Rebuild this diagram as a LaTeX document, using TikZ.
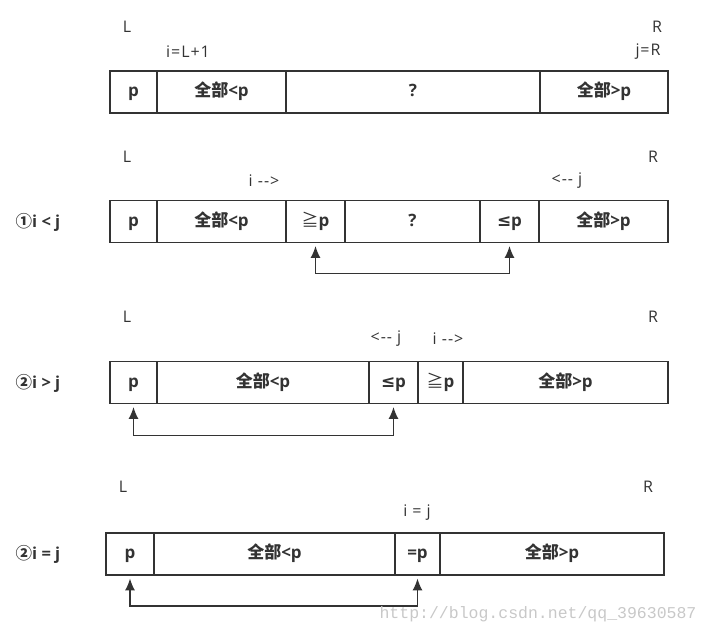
\documentclass[tikz,border=0pt]{standalone}
\usepackage{fontspec}
\setmainfont{Open Sans}
\newfontfamily\cjk{Noto Sans CJK SC}
\newfontfamily\sym{DejaVu Sans}
\newfontfamily\lblfont{Open Sans}[LetterSpace=6]
\newfontfamily\wmfont{Liberation Mono}
\usetikzlibrary{arrows.meta}
\definecolor{ink}{HTML}{333333}
\definecolor{wm}{HTML}{C8C8C8}
\newcommand{\qb}{{\cjk 全部}}
\tikzset{
  cell/.style={draw=ink, line width=1.8pt, minimum height=42pt, inner sep=0pt,
    text height=1.0em, text depth=0.08em,
    font=\fontsize{17}{17}\selectfont\bfseries, text=ink},
  lbl/.style={inner sep=0pt, font=\lblfont\fontsize{16}{16}\selectfont, text=ink},
  side/.style={inner sep=0pt, font=\fontsize{16.5}{16.5}\selectfont\bfseries, text=ink},
  arr/.style={draw=ink, line width=1.5pt, shorten <=2.5pt, shorten >=2.5pt,
    {Latex[length=12pt,width=10pt]}-{Latex[length=12pt,width=10pt]}}
}
\begin{document}
\begin{tikzpicture}[x=1pt,y=-1pt]
\useasboundingbox (0,0) rectangle (710,637);
% ---------- row 1 ----------
\node[lbl] (L1) at (127,27) {L};
\node[lbl] (R1) at (657,27) {R};
\node[lbl] (i1) at (188,52) {i=L+1};
\node[lbl] (j1) at (648,52) {j=R};
\node[cell, minimum width=47pt]  (a1) at (133.5,92) {p};
\node[cell, minimum width=129pt] (b1) at (221.5,92) {\qb<p};
\node[cell, minimum width=254pt] (c1) at (413,92) {?};
\node[cell, minimum width=128pt] (d1) at (604,92) {\qb>p};
% ---------- row 2 ----------
\node[lbl] (L2) at (127,157) {L};
\node[lbl] (R2) at (653,157) {R};
\node[lbl] (i2) at (264,181) {i -{}->};
\node[lbl] (j2) at (567,181) {<-{}- j};
\node[side] (s2) at (38,222) {{\cjk ①}i < j};
\node[cell, minimum width=47pt]  (a2) at (133.5,221.5) {p};
\node[cell, minimum width=129pt] (b2) at (221.5,221.5) {\qb<p};
\node[cell, minimum width=59pt]  (c2) at (315.5,221.5) {{\cjk\mdseries ≧}p};
\node[cell, minimum width=135pt] (d2) at (412.5,221.5) {?};
\node[cell, minimum width=59pt]  (e2) at (509.5,221.5) {{\sym ≤}p};
\node[cell, minimum width=129pt] (f2) at (603.5,221.5) {\qb>p};
\draw[arr] (c2.south) -- ++(0,30) -| (e2.south);
% ---------- row 3 ----------
\node[lbl] (L3) at (127,317) {L};
\node[lbl] (R3) at (653,317) {R};
\node[lbl] (j3) at (386,339) {<-{}- j};
\node[lbl] (i3) at (448,339) {i -{}->};
\node[side] (s3) at (38,383) {{\cjk ②}i > j};
\node[cell, minimum width=47pt]  (a3) at (133.5,382.5) {p};
\node[cell, minimum width=212pt] (b3) at (263,382.5) {\qb<p};
\node[cell, minimum width=49pt]  (c3) at (393.5,382.5) {{\sym ≤}p};
\node[cell, minimum width=45pt]  (d3) at (440.5,382.5) {{\cjk\mdseries ≧}p};
\node[cell, minimum width=205pt] (e3) at (565.5,382.5) {\qb>p};
\draw[arr] (a3.south) -- ++(0,31) -| (c3.south);
% ---------- row 4 ----------
\node[lbl] (L4) at (123,487) {L};
\node[lbl] (R4) at (648,487) {R};
\node[lbl] (ij4) at (417,513) {i = j};
\node[side] (s4) at (38,554) {{\cjk ②}i = j};
\node[cell, minimum width=48pt]  (a4) at (130,554) {p};
\node[cell, minimum width=241pt] (b4) at (274.5,554) {\qb<p};
\node[cell, minimum width=45pt]  (c4) at (417.5,554) {=p};
\node[cell, minimum width=224pt] (d4) at (552,554) {\qb>p};
\draw[arr] (a4.south) -- ++(0,30) -| (c4.south);
% ---------- watermark ----------
\node[inner sep=0pt, text=wm, font=\wmfont\fontsize{16.5}{16.5}\selectfont] (wm) at (538,614) {http://blog.csdn.net/qq\_39630587};
\end{tikzpicture}
\end{document}
